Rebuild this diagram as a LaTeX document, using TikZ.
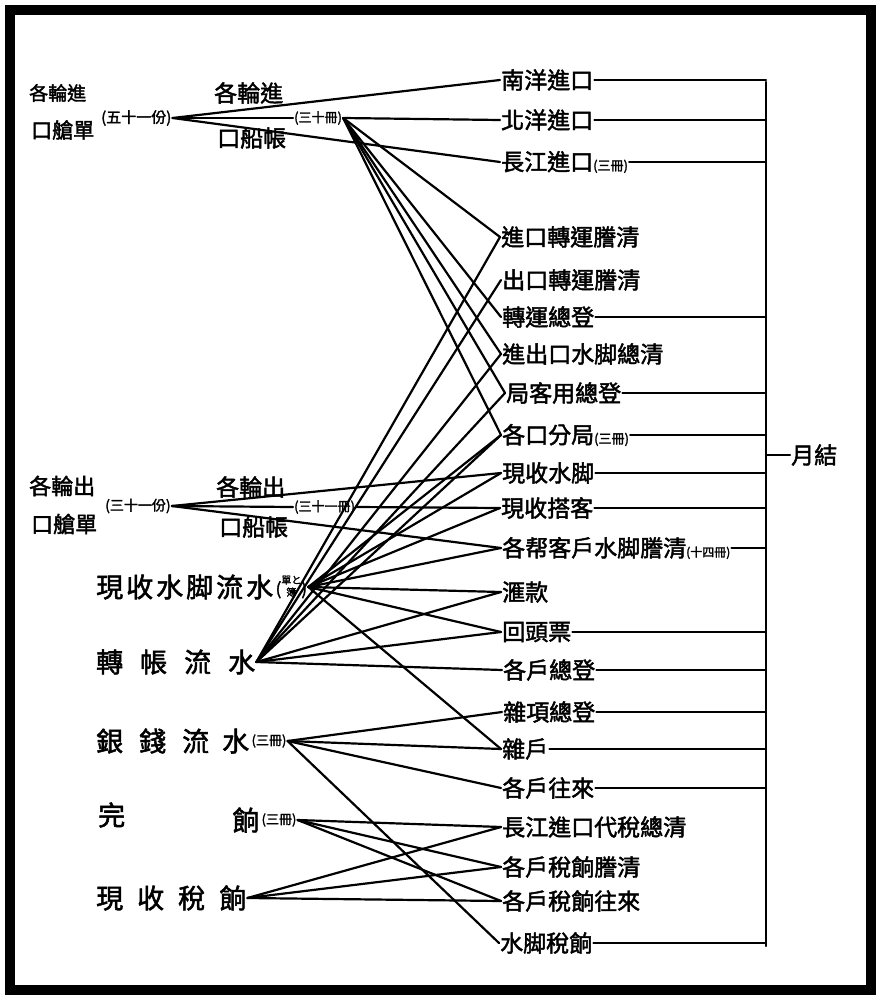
\documentclass[tikz,border=0pt]{standalone}
\usepackage{fontspec}
\newfontfamily\cjk[FakeBold=2]{Noto Sans CJK TC}
\begin{document}
\begin{tikzpicture}[x=1pt,y=-1pt,
  lab/.style={inner sep=1pt,font=\cjk\fontsize{23}{23}\selectfont},
  rlab/.style={anchor=west,inner sep=1pt,font=\cjk\fontsize{23}{23}\selectfont},
  big/.style={inner sep=1pt,anchor=west,font=\cjk\fontsize{27}{27}\selectfont},
  par/.style={inner sep=1pt,font=\cjk\fontsize{13}{13}\selectfont},
  ln/.style={line width=2.2pt,line cap=round},
  frame/.style={line width=10pt}]
\useasboundingbox (0,0) rectangle (877,1001);
\draw[frame] (10,10) rectangle (871,990);
% left sources
\node[lab,anchor=west,font=\cjk\fontsize{19}{19}\selectfont] (a1t) at (28,93) {各輪進};
\node[lab,anchor=west,font=\cjk\fontsize{21}{21}\selectfont] (a1b) at (30,130) {口艙單};
\node[par,anchor=west,font=\cjk\fontsize{15}{15}\selectfont] (a1) at (100,118) {(五十一份)};
\node[lab,anchor=west] (b1t) at (213,93) {各輪進};
\node[lab,anchor=west] (b1b) at (216,138) {口船帳};
\node[par,anchor=west] (b1) at (293,118) {(三十冊)};
\node[lab,anchor=west,font=\cjk\fontsize{22}{22}\selectfont] (a2t) at (28,486) {各輪出};
\node[lab,anchor=west,font=\cjk\fontsize{22}{22}\selectfont] (a2b) at (30,524) {口艙單};
\node[par,anchor=west,font=\cjk\fontsize{14}{14}\selectfont] (a2) at (104,506) {(三十一份)};
\node[lab,anchor=west] (b2t) at (215,487) {各輪出};
\node[lab,anchor=west] (b2b) at (218,527) {口船帳};
\node[par,anchor=west] (b2) at (293,507) {(三十一冊)};
\node[big] (pt) at (95,587) {現\hspace{3pt}收\hspace{3pt}水\hspace{3pt}脚\hspace{3pt}流\hspace{3pt}水};
\node[par,anchor=west,font=\cjk\fontsize{17}{17}\selectfont] (p) at (pt.east) {(\raisebox{-1pt}{\fontsize{10}{11}\selectfont\shortstack{單と\\簿}})};
\node[big] (t) at (95,662) {轉\hspace{17pt}帳\hspace{17pt}流\hspace{17pt}水};
\node[big] (st) at (95,741) {銀\hspace{16pt}錢\hspace{16pt}流\hspace{13pt}水};
\node[par,anchor=west] (s) at (st.east) {(三冊)};
\node[big] (kt) at (97,815) {完};
\node[big] (kt2) at (231,820) {餉};
\node[par,anchor=west] (k) at (kt2.east) {(三冊)};
\node[big] (v) at (95,898) {現\hspace{14pt}收\hspace{14pt}稅\hspace{14pt}餉};
% right targets
\node[rlab] (r1) at (500,80) {南洋進口};
\node[rlab] (r2) at (500,120) {北洋進口};
\node[rlab] (r3) at (500,162) {長江進口\fontsize{13}{13}\selectfont(三冊)};
\node[rlab] (r4) at (500,237) {進口轉運謄清};
\node[rlab] (r5) at (501,280) {出口轉運謄清};
\node[rlab] (r6) at (501,317) {轉運總登};
\node[rlab] (r7) at (501,354) {進出口水脚總清};
\node[rlab] (r8) at (505,393) {局客用總登};
\node[rlab] (r9) at (501,435) {各口分局\fontsize{13}{13}\selectfont(三冊)};
\node[rlab] (r10) at (501,473) {現收水脚};
\node[rlab] (r11) at (500,508) {現收搭客};
\node[rlab] (r12) at (501,548) {各帮客戶水脚謄清\fontsize{12}{12}\selectfont(十四冊)};
\node[rlab] (r13) at (501,592) {滙款};
\node[rlab] (r14) at (501,632) {回頭票};
\node[rlab] (r15) at (502,670) {各戶總登};
\node[rlab] (r16) at (502,712) {雜項總登};
\node[rlab] (r17) at (501,749) {雜戶};
\node[rlab] (r18) at (501,788) {各戶往來};
\node[rlab] (r19) at (501,827) {長江進口代稅總清};
\node[rlab] (r20) at (501,867) {各戶稅餉謄清};
\node[rlab] (r21) at (501,901) {各戶稅餉往來};
\node[rlab] (r22) at (499,943) {水脚稅餉};
\node[rlab] (yj) at (790,455) {月結};
% bracket
\coordinate (brtop) at (766,82);
\coordinate (brbot) at (766,946);
\coordinate (brmid) at (766,455);
\draw[ln] (brtop) -- (brbot);
\draw[ln] (brmid) -- (yj.west);
\foreach \r in {r1,r2,r3,r6,r8,r9,r10,r11,r12,r14,r15,r16,r17,r18,r22}
  \draw[ln] (\r.east) -- (\r.east -| brtop);
% fans
\foreach \r in {r1,b1,r3} \draw[ln] (a1.east) -- (\r.west);
\foreach \r in {r2,r4,r6,r7,r8,r9} \draw[ln] (b1.east) -- (\r.west);
\foreach \r in {r10,b2,r12} \draw[ln] (a2.east) -- (\r.west);
\foreach \r in {r11} \draw[ln] (b2.east) -- (\r.west);
\foreach \r in {r9,r10,r11,r12,r13,r14,r17} \draw[ln] (p.east) -- (\r.west);
\foreach \r in {r4,r5,r7,r8,r9,r13,r14,r15} \draw[ln] (t.east) -- (\r.west);
\foreach \r in {r16,r17,r18,r22} \draw[ln] (s.east) -- (\r.west);
\foreach \r in {r19,r20,r21} \draw[ln] (k.east) -- (\r.west);
\foreach \r in {r19,r20,r21} \draw[ln] (v.east) -- (\r.west);
\end{tikzpicture}
\end{document}
